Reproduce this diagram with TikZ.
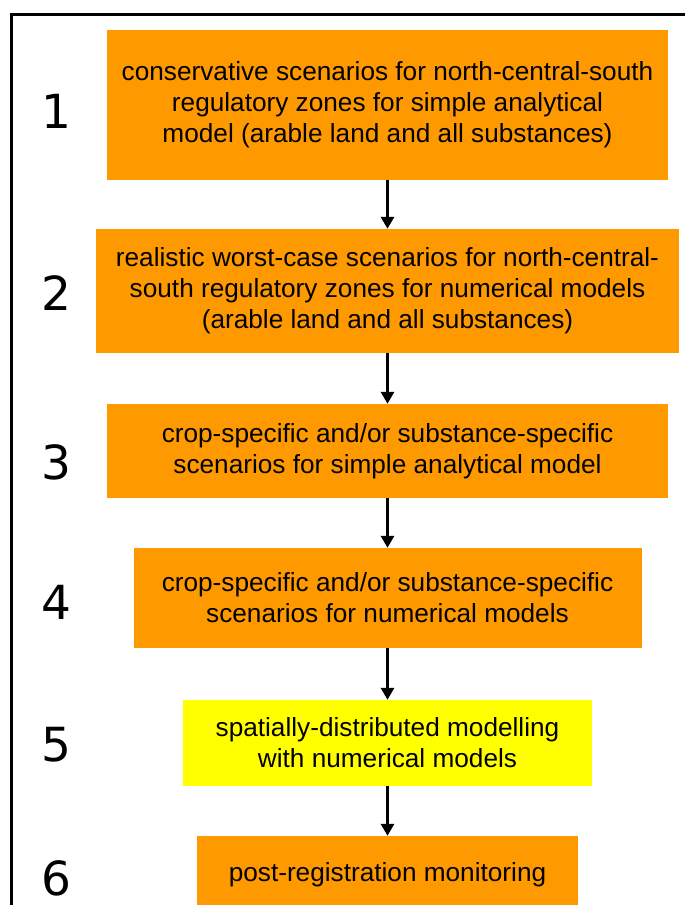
\documentclass[tikz,border=0pt]{standalone}
\usepackage{fontspec}
\setmainfont{Liberation Sans}
\newfontfamily\numfont{DejaVu Sans}
\usetikzlibrary{arrows.meta}
\definecolor{boxorange}{HTML}{FF9900}
\definecolor{boxyellow}{HTML}{FFFF00}
\tikzset{
  stagebox/.style={fill=boxorange, draw=none, inner sep=0pt, align=center,
    font=\fontsize{26.2}{31}\selectfont},
  stageyellow/.style={stagebox, fill=boxyellow},
  stagenum/.style={font=\numfont\fontsize{47}{50}\selectfont, inner sep=0pt},
  flow/.style={line width=3pt, -{Triangle[width=13pt,length=12pt]}},
  frameline/.style={line width=3pt}
}
\begin{document}
\begin{tikzpicture}[x=1pt,y=-1pt]
\clip (0,0) rectangle (685,905);
\fill[white] (0,0) rectangle (685,905);
\draw[frameline] (11,910) -- (11,14) -- (690,14);

\node[stagebox, minimum width=561pt, minimum height=150pt] (b1) at (387.5,105)
  {conservative scenarios for north-central-south\\regulatory zones for simple analytical\\model (arable land and all substances)};
\node[stagebox, minimum width=583pt, minimum height=124pt] (b2) at (387.5,291)
  {realistic worst-case scenarios for north-central-\\south regulatory zones for numerical models\\(arable land and all substances)};
\node[stagebox, minimum width=561pt, minimum height=94pt] (b3) at (387.5,451)
  {crop-specific and/or substance-specific\\scenarios for simple analytical model};
\node[stagebox, minimum width=508pt, minimum height=100pt] (b4) at (387.5,598)
  {crop-specific and/or substance-specific\\scenarios for numerical models};
\node[stageyellow, minimum width=409pt, minimum height=86pt] (b5) at (387.5,743)
  {spatially-distributed modelling\\with numerical models};
\node[stagebox, minimum width=381pt, minimum height=78pt] (b6) at (387.5,875)
  {post-registration monitoring};

\node[stagenum] (n1) at (56,111.5) {1};
\node[stagenum] (n2) at (56,293) {2};
\node[stagenum] (n3) at (56,462) {3};
\node[stagenum] (n4) at (56,602) {4};
\node[stagenum] (n5) at (56,745) {5};
\node[stagenum] (n6) at (56,878) {6};

\draw[flow] (b1.south) -- (b2.north);
\draw[flow] (b2.south) -- (b3.north);
\draw[flow] (b3.south) -- (b4.north);
\draw[flow] (b4.south) -- (b5.north);
\draw[flow] (b5.south) -- (b6.north);
\end{tikzpicture}
\end{document}
